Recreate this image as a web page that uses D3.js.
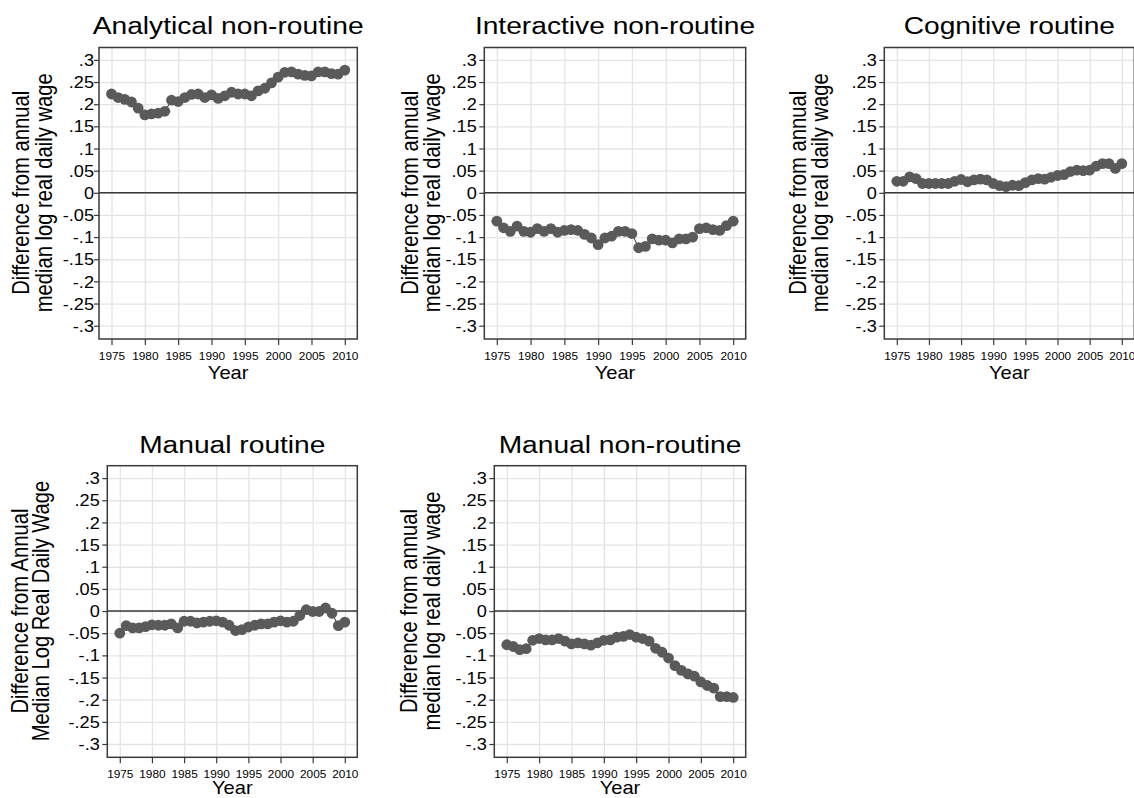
<!DOCTYPE html>
<html>
<head>
<meta charset="utf-8">
<script src="https://d3js.org/d3.v7.min.js"></script>
<style>
  body { margin: 0; background: #fff; }
  svg { display: block; font-family: "Liberation Sans", Arial, sans-serif; }
</style>
</head>
<body>
<div id="chart"></div>
<script>
// Data
const years = d3.range(1975, 2011);

const analyticalNonRoutine = [0.223, 0.215, 0.211, 0.205, 0.191, 0.176, 0.178, 0.180, 0.184, 0.209,
  0.206, 0.215, 0.222, 0.223, 0.215, 0.221, 0.213, 0.219, 0.227, 0.223,
  0.223, 0.219, 0.230, 0.236, 0.248, 0.261, 0.272, 0.273, 0.268, 0.265,
  0.264, 0.273, 0.273, 0.269, 0.268, 0.277];

const interactiveNonRoutine = [-0.064, -0.079, -0.087, -0.075, -0.087, -0.089, -0.081, -0.087, -0.081, -0.089,
  -0.085, -0.083, -0.085, -0.094, -0.102, -0.117, -0.102, -0.098, -0.087, -0.087,
  -0.092, -0.124, -0.121, -0.104, -0.107, -0.107, -0.113, -0.104, -0.104, -0.100,
  -0.081, -0.079, -0.083, -0.085, -0.074, -0.064];

const cognitiveRoutine = [0.026, 0.026, 0.036, 0.032, 0.021, 0.021, 0.021, 0.021, 0.021, 0.026,
  0.030, 0.025, 0.029, 0.031, 0.029, 0.021, 0.016, 0.014, 0.017, 0.016,
  0.023, 0.029, 0.032, 0.031, 0.035, 0.039, 0.041, 0.048, 0.051, 0.050,
  0.051, 0.060, 0.066, 0.066, 0.055, 0.066];

const manualRoutine = [-0.050, -0.033, -0.038, -0.038, -0.035, -0.031, -0.032, -0.032, -0.029, -0.038,
  -0.023, -0.023, -0.027, -0.025, -0.023, -0.022, -0.025, -0.032, -0.044, -0.042,
  -0.036, -0.032, -0.029, -0.029, -0.025, -0.022, -0.025, -0.023, -0.010, 0.003,
  -0.001, -0.001, 0.007, -0.005, -0.033, -0.025];

const manualNonRoutine = [-0.076, -0.080, -0.087, -0.085, -0.066, -0.062, -0.065, -0.065, -0.062, -0.068,
  -0.074, -0.072, -0.074, -0.077, -0.072, -0.066, -0.065, -0.059, -0.057, -0.053,
  -0.059, -0.062, -0.068, -0.084, -0.093, -0.106, -0.123, -0.134, -0.142, -0.147,
  -0.160, -0.168, -0.174, -0.193, -0.193, -0.195];

const titles = ["Analytical non-routine", "Interactive non-routine", "Cognitive routine",
  "Manual routine", "Manual non-routine"];
const series = [analyticalNonRoutine, interactiveNonRoutine, cognitiveRoutine, manualRoutine, manualNonRoutine];

const yTitleLower = ["Difference from annual", "median log real daily wage"];
const yTitleUpper = ["Difference from Annual", "Median Log Real Daily Wage"];
const yTitles = [yTitleLower, yTitleLower, yTitleLower, yTitleUpper, yTitleLower];

const yTicks = [0.3, 0.25, 0.2, 0.15, 0.1, 0.05, 0, -0.05, -0.1, -0.15, -0.2, -0.25, -0.3];
const yTickLabels = [".3", ".25", ".2", ".15", ".1", ".05", "0", "-.05", "-.1", "-.15", "-.2", "-.25", "-.3"];
const xTicks = [1975, 1980, 1985, 1990, 1995, 2000, 2005, 2010];
const xTitle = "Year";

// Layout: each panel of the combined graph is placed (and scaled) on its own
const width = 1134;
const height = 798;
const SX = 1.15; // text in the source is stretched horizontally

const rows = [
  { top: 47.5, bottom: 339, titleY: 34.3, yearDy: 39.5 },
  { top: 465.7, bottom: 757.3, titleY: 453.3, yearDy: 37 }
];
const panels = [
  { row: 0, x0: 99, x1: 357.3, labelGap: 5, yt: [29.3, 51.7] },
  { row: 0, x0: 484.3, x1: 745.7, labelGap: 7.5, yt: [417.7, 440] },
  { row: 0, x0: 884.3, x1: 1134.3, labelGap: 7.5, yt: [805.7, 828.3] },
  { row: 1, x0: 107.3, x1: 357.3, labelGap: 7.5, yt: [28.3, 49.3] },
  { row: 1, x0: 494.3, x1: 745.7, labelGap: 7.5, yt: [417.3, 440] }
];

const svg = d3.select("#chart").append("svg")
  .attr("width", width)
  .attr("height", height);

function stretchText(g, x, y, str, size, anchor, rotate) {
  return g.append("text")
    .attr("transform", `translate(${x},${y}) scale(${SX},1)` + (rotate ? " rotate(-90)" : ""))
    .attr("text-anchor", anchor)
    .attr("font-size", size)
    .attr("fill", "#000")
    .text(str);
}

panels.forEach((p, i) => {
  const r = rows[p.row];
  const g = svg.append("g");

  const x = d3.scaleLinear().domain([1975, 2010]).range([p.x0 + 12.5, p.x1 - 12.5]);
  const y = d3.scaleLinear().domain([-0.3, 0.3]).range([r.bottom - 13.3, r.top + 12.4]);

  // Gridlines
  g.append("g")
    .attr("transform", `translate(${p.x0},0)`)
    .call(d3.axisLeft(y).tickValues(yTicks).tickSize(-(p.x1 - p.x0)).tickFormat(""))
    .call(a => a.select(".domain").remove())
    .call(a => a.selectAll("line").attr("stroke", "#e4e4e4").attr("stroke-width", 1.3));
  g.append("g")
    .attr("transform", `translate(0,${r.bottom})`)
    .call(d3.axisBottom(x).tickValues(xTicks).tickSize(-(r.bottom - r.top)).tickFormat(""))
    .call(a => a.select(".domain").remove())
    .call(a => a.selectAll("line").attr("stroke", "#e4e4e4").attr("stroke-width", 1.3));

  // Zero line
  g.append("line")
    .attr("x1", p.x0).attr("x2", p.x1)
    .attr("y1", y(0)).attr("y2", y(0))
    .attr("stroke", "#3a3a3a").attr("stroke-width", 1.5);

  // Y axis with ticks and labels
  const yAxis = g.append("g")
    .attr("transform", `translate(${p.x0},0)`)
    .call(d3.axisLeft(y).tickValues(yTicks).tickSize(5).tickFormat((d, k) => yTickLabels[k]));
  yAxis.select(".domain").remove();
  yAxis.selectAll("line").attr("stroke", "#3a3a3a").attr("stroke-width", 1.2);
  yAxis.selectAll("text")
    .attr("x", null).attr("dy", null)
    .attr("transform", `translate(${-p.labelGap},5.6) scale(${SX},1)`)
    .attr("font-size", 15.8)
    .attr("font-family", null)
    .attr("fill", "#000");

  // X axis with ticks and labels
  const xAxis = g.append("g")
    .attr("transform", `translate(0,${r.bottom})`)
    .call(d3.axisBottom(x).tickValues(xTicks).tickSize(6).tickFormat(d3.format("d")));
  xAxis.select(".domain").remove();
  xAxis.selectAll("line").attr("stroke", "#3a3a3a").attr("stroke-width", 1.2);
  xAxis.selectAll("text")
    .attr("y", null).attr("dy", null)
    .attr("transform", `translate(0,21) scale(${SX},1)`)
    .attr("font-size", 10.3)
    .attr("font-family", null)
    .attr("fill", "#000");

  // Frame
  g.append("rect")
    .attr("x", p.x0).attr("y", r.top)
    .attr("width", p.x1 - p.x0).attr("height", r.bottom - r.top)
    .attr("fill", "none")
    .attr("stroke", "#3a3a3a").attr("stroke-width", 1.5);

  // Connected scatter
  const pts = years.map((yr, k) => ({ year: yr, value: series[i][k] }));
  g.append("path")
    .datum(pts)
    .attr("fill", "none")
    .attr("stroke", "#111")
    .attr("stroke-width", 0.9)
    .attr("d", d3.line().x(d => x(d.year)).y(d => y(d.value)));
  g.selectAll(".dot")
    .data(pts)
    .enter().append("circle")
    .attr("class", "dot")
    .attr("cx", d => x(d.year))
    .attr("cy", d => y(d.value))
    .attr("r", 5.4)
    .attr("fill", "#5a5a5a");

  // Titles
  stretchText(g, (p.x0 + p.x1) / 2, r.titleY, titles[i], 24.5, "middle");
  stretchText(g, (p.x0 + p.x1) / 2, r.bottom + r.yearDy, xTitle, 17.5, "middle");
  yTitles[i].forEach((line, k) => {
    stretchText(g, p.yt[k], y(0), line, 20.2, "middle", true);
  });
});
</script>
</body>
</html>
